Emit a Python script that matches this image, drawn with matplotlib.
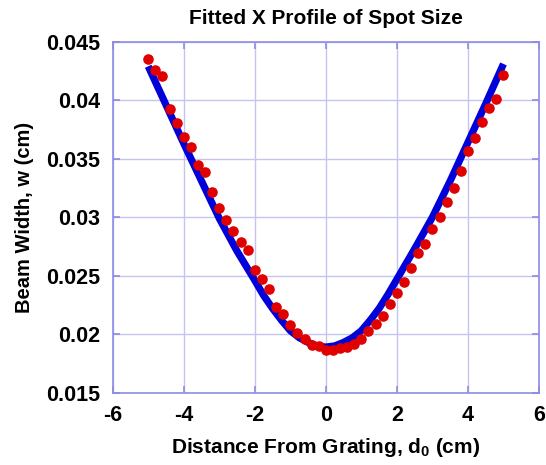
import matplotlib
matplotlib.use("Agg")
import matplotlib.pyplot as plt

# measured spot size (red points)
d_meas = [-5.0, -4.8, -4.6, -4.4, -4.2, -4.0, -3.8, -3.6, -3.4, -3.2,
          -3.0, -2.8, -2.6, -2.4, -2.2, -2.0, -1.8, -1.6, -1.4, -1.2,
          -1.0, -0.8, -0.6, -0.4, -0.2, 0.0, 0.2, 0.4, 0.6, 0.8,
          1.0, 1.2, 1.4, 1.6, 1.8, 2.0, 2.2, 2.4, 2.6, 2.8,
          3.0, 3.2, 3.4, 3.6, 3.8, 4.0, 4.2, 4.4, 4.6, 4.8, 5.0]
w_meas = [0.04352, 0.04258, 0.04209, 0.03922, 0.03808, 0.03688, 0.03603, 0.03446, 0.03389, 0.03213,
          0.03081, 0.02976, 0.02885, 0.02788, 0.02717, 0.02549, 0.02472, 0.02384, 0.02235, 0.02170,
          0.02079, 0.02013, 0.01956, 0.01910, 0.01899, 0.01865, 0.01865, 0.01880, 0.01888, 0.01916,
          0.01959, 0.02027, 0.02085, 0.02156, 0.02256, 0.02352, 0.02444, 0.02568, 0.02691, 0.02768,
          0.02897, 0.02999, 0.03132, 0.03252, 0.03397, 0.03568, 0.03677, 0.03814, 0.03933, 0.04010, 0.04215]

# fitted profile (blue line)
d_fit = [-5.0, -4.5, -4.0, -3.5, -3.0, -2.5, -2.0, -1.75, -1.5, -1.25, -1.0, -0.75, -0.5, -0.25, 0.0,
         0.25, 0.5, 0.75, 1.0, 1.25, 1.5, 1.75, 2.0, 2.5, 3.0, 3.5, 4.0, 4.5, 5.0]
w_fit = [0.0429, 0.0396, 0.0363, 0.0331, 0.0299, 0.0271, 0.0246, 0.0233, 0.0222, 0.0212, 0.0203,
         0.0197, 0.0193, 0.0190, 0.0189,
         0.0190, 0.0193, 0.0197, 0.0203, 0.0212, 0.0222, 0.0234, 0.0247, 0.0273, 0.0300, 0.0331,
         0.0364, 0.0397, 0.0431]

xticks = [-6, -4, -2, 0, 2, 4, 6]
yticks = [0.015, 0.02, 0.025, 0.03, 0.035, 0.04, 0.045]
ytick_labels = ["0.015", "0.02", "0.025", "0.03", "0.035", "0.04", "0.045"]

plt.rcParams["font.family"] = ["Liberation Sans", "DejaVu Sans"]
plt.rcParams["font.weight"] = "bold"
plt.rcParams["axes.unicode_minus"] = False
plt.rcParams["mathtext.fontset"] = "custom"
plt.rcParams["mathtext.rm"] = "Liberation Sans:bold"
plt.rcParams["mathtext.it"] = "Liberation Sans:bold"
plt.rcParams["mathtext.bf"] = "Liberation Sans:bold"

axis_col = "#8c8ce6"
grid_col = "#c4c4f2"

fig = plt.figure(figsize=(5.46, 4.65), dpi=100)
ax = fig.add_axes([0.2064, 0.1555, 0.7808, 0.7548])

ax.plot(d_fit, w_fit, color="#0000d8", lw=5.2, solid_capstyle="butt",
        solid_joinstyle="round", zorder=2)
ax.plot(d_meas, w_meas, "o", color="#e00000", ms=6.6, mec="#e00000", zorder=3)

ax.set_xlim(-6, 6)
ax.set_ylim(0.015, 0.045)
ax.set_xticks(xticks)
ax.set_yticks(yticks)
ax.set_yticklabels(ytick_labels)

ax.grid(True, color=grid_col, lw=1.0)
ax.set_axisbelow(True)
for s in ax.spines.values():
    s.set_color(axis_col)
    s.set_linewidth(1.2)
ax.tick_params(direction="in", length=5, width=1.2, color=axis_col,
               labelsize=15.5, pad=9, top=True, right=True)

ax.set_title("Fitted X Profile of Spot Size", fontsize=15, fontweight="bold", pad=13)
ax.set_xlabel("Distance From Grating, d$_0$ (cm)", fontsize=15, fontweight="bold", labelpad=7)
ax.set_ylabel("Beam Width, w (cm)", fontsize=14.5, fontweight="bold", labelpad=9)

fig.savefig("out.png", dpi=100)
